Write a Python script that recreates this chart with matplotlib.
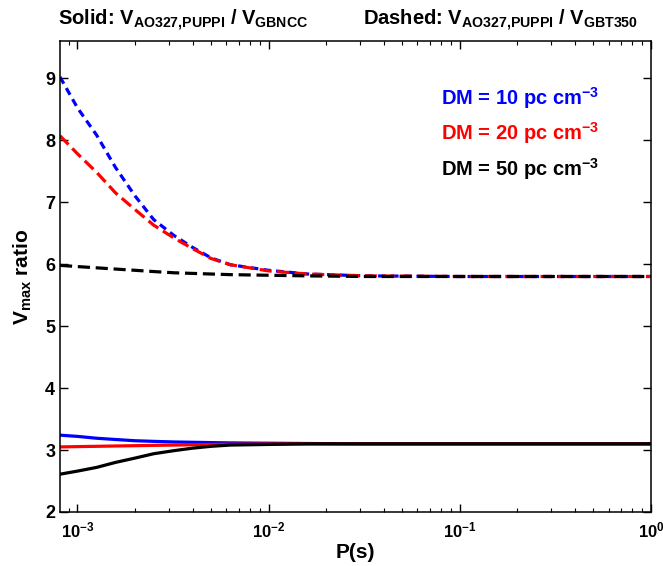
import matplotlib
matplotlib.use("Agg")
import matplotlib.pyplot as plt
from matplotlib.ticker import LogLocator, NullFormatter

plt.rcParams['font.family'] = ['Liberation Sans', 'DejaVu Sans']
plt.rcParams['font.weight'] = 'bold'
plt.rcParams['mathtext.fontset'] = 'custom'
plt.rcParams['mathtext.rm'] = 'Liberation Sans:bold'
plt.rcParams['mathtext.it'] = 'Liberation Sans:bold'
plt.rcParams['mathtext.bf'] = 'Liberation Sans:bold'
plt.rcParams['mathtext.default'] = 'rm'

# period grid (s)
period = [8.1e-4, 1e-3, 1.26e-3, 1.58e-3, 2e-3, 2.5e-3, 3.2e-3, 4e-3,
          5e-3, 6.3e-3, 1e-2, 1.6e-2, 3.2e-2, 0.1, 1.0]

# dashed: AO327 PUPPI / GBT350
dash_dm10 = [9.02, 8.52, 8.08, 7.56, 7.10, 6.72, 6.46, 6.27, 6.10, 5.99, 5.90, 5.84, 5.81, 5.80, 5.80]
dash_dm20 = [8.07, 7.78, 7.48, 7.15, 6.88, 6.63, 6.42, 6.25, 6.09, 5.99, 5.89, 5.84, 5.81, 5.80, 5.80]
dash_dm50 = [5.98, 5.96, 5.94, 5.92, 5.90, 5.88, 5.86, 5.85, 5.84, 5.83, 5.82, 5.81, 5.80, 5.80, 5.80]

# solid: AO327 PUPPI / GBNCC
solid_dm10 = [3.24, 3.22, 3.19, 3.17, 3.15, 3.14, 3.13, 3.125, 3.12, 3.115, 3.11, 3.105, 3.10, 3.10, 3.10]
solid_dm20 = [3.05, 3.055, 3.06, 3.065, 3.07, 3.075, 3.08, 3.085, 3.09, 3.093, 3.097, 3.10, 3.10, 3.10, 3.10]
solid_dm50 = [2.61, 2.66, 2.72, 2.80, 2.87, 2.94, 2.99, 3.03, 3.06, 3.08, 3.09, 3.10, 3.10, 3.10, 3.10]

labels = [r'DM = 10 pc cm$^{-3}$', r'DM = 20 pc cm$^{-3}$', r'DM = 50 pc cm$^{-3}$']
colors = ['#0000ff', '#ff0000', '#000000']

fig = plt.figure(figsize=(6.63, 5.66), dpi=100)
ax = fig.add_axes([60 / 663, 1 - 512 / 566, 591 / 663, 471 / 566])

lw = 2.3
ax.plot(period, dash_dm10, color=colors[0], lw=lw, dashes=(2.4, 1.6))
ax.plot(period, dash_dm20, color=colors[1], lw=lw, dashes=(3.8, 1.7))
ax.plot(period, dash_dm50, color=colors[2], lw=lw, dashes=(3.8, 1.8))
ax.plot(period, solid_dm10, color=colors[0], lw=lw)
ax.plot(period, solid_dm20, color=colors[1], lw=lw)
ax.plot(period, solid_dm50, color=colors[2], lw=lw)

ax.set_xscale('log')
ax.set_xlim(8.1e-4, 1.0)
ax.set_ylim(2, 9.6)
ax.set_yticks(range(2, 10))
ax.xaxis.set_minor_locator(LogLocator(base=10, subs=range(2, 10)))
ax.xaxis.set_minor_formatter(NullFormatter())
ax.tick_params(which='both', direction='in', top=True, right=True)
ax.tick_params(axis='y', labelsize=13)
ax.tick_params(axis='x', labelsize=12, pad=6)
ax.tick_params(which='major', length=6, width=1)
ax.tick_params(which='minor', length=3, width=0.8)
for s in ax.spines.values():
    s.set_linewidth(1.1)

ax.set_xlabel('P(s)', fontsize=15, fontweight='bold', labelpad=2)
ax.set_ylabel(r'V$_{\rm max}$ ratio', fontsize=15, fontweight='bold', labelpad=8)

for i, (lab, c) in enumerate(zip(labels, colors)):
    ax.text(0.645, 0.879 - i * 0.075, lab, color=c, fontsize=14.5,
            fontweight='bold', transform=ax.transAxes, va='center', ha='left')

fig.text(58 / 663, 1 - 20 / 566, r'Solid: V$_{\rm AO327{,}PUPPI}$ / V$_{\rm GBNCC}$',
         fontsize=14.5, fontweight='bold', va='center', ha='left')
fig.text(363 / 663, 1 - 20 / 566, r'Dashed: V$_{\rm AO327{,}PUPPI}$ / V$_{\rm GBT350}$',
         fontsize=14.5, fontweight='bold', va='center', ha='left')

fig.savefig('out.png', dpi=100)
